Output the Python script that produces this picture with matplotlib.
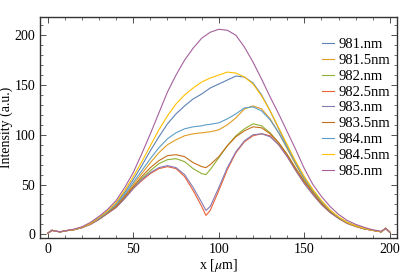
import numpy as np
import matplotlib
matplotlib.use("Agg")
import matplotlib.pyplot as plt
from matplotlib.ticker import MultipleLocator

plt.rcParams['font.family'] = ['Liberation Serif', 'DejaVu Serif']
plt.rcParams['mathtext.fontset'] = 'stix'

# position grid (um)
x_um = [0, 2.5, 5, 7.5, 10, 15, 20, 25, 30, 35,
        40, 45, 50, 55, 60, 65, 70, 75, 80, 85, 90, 92.5, 95,
        100, 105, 110, 115, 120, 125, 130, 135, 140, 145,
        150, 155, 160, 165, 170, 175, 180, 185, 190, 195, 197.5, 200]

labels = ["981.nm", "981.5nm", "982.nm", "982.5nm", "983.nm",
          "983.5nm", "984.nm", "984.5nm", "985.nm"]

i_981 = [1, 4, 3, 2.5, 3.5, 4.5, 7, 11, 16.5, 23,
         31, 42, 55, 69, 84, 98, 111, 121, 129, 136, 141, 144, 147,
         151, 155, 159, 158, 152, 140, 124, 106, 88, 71,
         56, 44, 33, 24, 17, 12, 8.5, 6, 4, 2.5, 6, 2]
i_981_5 = [1, 4, 3, 2.5, 3.5, 4.5, 7, 11, 16, 22,
           29, 39, 50, 61, 72, 82, 90, 95, 99, 101, 102, 102.5, 103,
           105, 110, 117, 126, 129, 126, 116, 102, 86, 70,
           55, 43, 32, 23.5, 17, 12, 8.5, 6, 4, 2.5, 6, 2]
i_982 = [1, 4, 3, 2.5, 3.5, 4.5, 7, 10.5, 15.5, 21.5,
         28, 37, 47, 56, 64, 71, 75, 76, 73, 66, 61, 60, 65,
         77, 89, 99, 106, 111, 109, 102, 92, 80, 66,
         53, 42, 31, 23, 16.5, 11.5, 8, 5.5, 4, 2.5, 6, 2]
i_982_5 = [1, 4, 3, 2.5, 3.5, 4.5, 6.5, 10, 15, 21,
           27, 36, 46, 54, 61, 66, 68, 66, 58, 44, 28, 19, 24,
           44, 65, 82, 93, 99, 101, 99, 90, 78, 64,
           51, 40, 30, 22, 16, 11, 8, 5.5, 4, 2.5, 6, 2]
i_983 = [1, 4, 3, 2.5, 3.5, 4.5, 6.5, 10, 15, 21,
         27, 36, 46, 55, 62, 67, 69, 67, 60, 47, 32, 24, 28,
         47, 67, 83, 94, 100, 101, 98, 90, 78, 64,
         51, 40, 30, 22, 16, 11, 8, 5.5, 4, 2.5, 6, 2]
i_983_5 = [1, 4, 3, 2.5, 3.5, 4.5, 7, 10.5, 15.5, 21.5,
           28, 38, 48, 58, 67, 74, 79, 80, 78, 72, 68, 67, 70,
           78, 89, 98, 104, 108, 107, 101, 92, 80, 66,
           53, 42, 31, 23, 16.5, 11.5, 8, 5.5, 4, 2.5, 6, 2]
i_984 = [1, 4, 3, 2.5, 3.5, 4.5, 7, 11, 16, 22.5,
         30, 40, 52, 64, 76, 87, 96, 102, 106, 108, 109, 110, 110.5,
         112, 116, 121, 127, 128, 124, 115, 102, 87, 71,
         56, 44, 33, 24, 17, 12, 8.5, 6, 4, 2.5, 6, 2]
i_984_5 = [1, 4, 3, 2.5, 3.5, 4.5, 7, 11, 17, 23.5,
           32, 44, 58, 73, 89, 105, 119, 131, 140, 147, 153, 155, 157,
           160, 163, 162, 158, 151, 139, 124, 107, 90, 73,
           58, 45, 34, 24.5, 17.5, 12, 8.5, 6, 4, 2.5, 6, 2]
i_985 = [1, 4, 3, 2.5, 3.5, 5, 7.5, 12, 18, 25,
         34, 47, 62, 81, 101, 122, 143, 160, 175, 187, 197, 200, 203,
         206, 205, 200, 188, 173, 156, 138, 121, 103, 85,
         66, 50, 38, 28, 20, 14, 10, 7, 4.5, 3, 6, 2]

series = [i_981, i_981_5, i_982, i_982_5, i_983,
          i_983_5, i_984, i_984_5, i_985]

# Mathematica default palette
colors = ["#5E81B5", "#E19C24", "#8FB032", "#EB6235", "#8778B3",
          "#C56E1A", "#5D9EC7", "#FFBF00", "#A5609D"]

fs = 10

fig = plt.figure(figsize=(4.15, 2.75), dpi=100)
ax = fig.add_axes([0.0964, 0.1335, 0.8596, 0.8035])

for vals, col, lab in zip(series, colors, labels):
    ax.plot(x_um, vals, color=col, lw=0.8, label=lab)

ax.set_xlim(-4.5, 204)
ax.set_ylim(-4, 218)
ax.xaxis.set_major_locator(MultipleLocator(50))
ax.xaxis.set_minor_locator(MultipleLocator(10))
ax.yaxis.set_major_locator(MultipleLocator(50))
ax.yaxis.set_minor_locator(MultipleLocator(10))
ax.tick_params(which='both', direction='in', top=True, right=True,
               labelsize=fs, colors='#333333', labelcolor='black')
ax.tick_params(which='major', length=4, width=0.6, pad=3.5)
ax.tick_params(which='minor', length=2, width=0.5)
for sp in ax.spines.values():
    sp.set_color('#333333')
    sp.set_linewidth(1.0)

ax.set_xlabel("x [$\\mu$m]", fontsize=fs)
ax.xaxis.set_label_coords(0.5, -0.085)
ax.set_ylabel("Intensity (a.u.)", fontsize=fs)
ax.yaxis.set_label_coords(-0.077, 0.5)

ax.legend(loc='upper left', bbox_to_anchor=(0.776, 0.862),
          bbox_transform=fig.transFigure, frameon=False, fontsize=10.5,
          handlelength=0.8, handletextpad=0.35, labelspacing=0.18,
          borderpad=0, borderaxespad=0)

fig.savefig("out.png", dpi=100)
